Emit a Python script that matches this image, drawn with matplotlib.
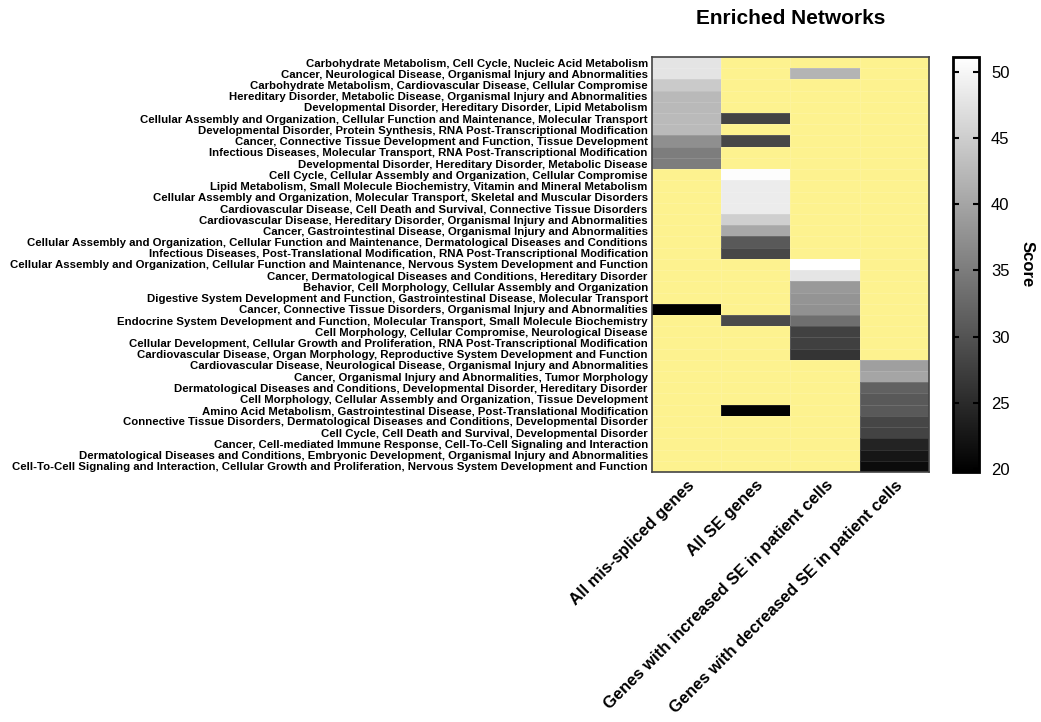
import matplotlib
matplotlib.use("Agg")
import matplotlib.pyplot as plt
import numpy as np

plt.rcParams['font.family'] = ['Liberation Sans', 'DejaVu Sans']

networks = [
    "Carbohydrate Metabolism, Cell Cycle, Nucleic Acid Metabolism",
    "Cancer, Neurological Disease, Organismal Injury and Abnormalities",
    "Carbohydrate Metabolism, Cardiovascular Disease, Cellular Compromise",
    "Hereditary Disorder, Metabolic Disease, Organismal Injury and Abnormalities",
    "Developmental Disorder, Hereditary Disorder, Lipid Metabolism",
    "Cellular Assembly and Organization, Cellular Function and Maintenance, Molecular Transport",
    "Developmental Disorder, Protein Synthesis, RNA Post-Transcriptional Modification",
    "Cancer, Connective Tissue Development and Function, Tissue Development",
    "Infectious Diseases, Molecular Transport, RNA Post-Transcriptional Modification",
    "Developmental Disorder, Hereditary Disorder, Metabolic Disease",
    "Cell Cycle, Cellular Assembly and Organization, Cellular Compromise",
    "Lipid Metabolism, Small Molecule Biochemistry, Vitamin and Mineral Metabolism",
    "Cellular Assembly and Organization, Molecular Transport, Skeletal and Muscular Disorders",
    "Cardiovascular Disease, Cell Death and Survival, Connective Tissue Disorders",
    "Cardiovascular Disease, Hereditary Disorder, Organismal Injury and Abnormalities",
    "Cancer, Gastrointestinal Disease, Organismal Injury and Abnormalities",
    "Cellular Assembly and Organization, Cellular Function and Maintenance, Dermatological Diseases and Conditions",
    "Infectious Diseases, Post-Translational Modification, RNA Post-Transcriptional Modification",
    "Cellular Assembly and Organization, Cellular Function and Maintenance, Nervous System Development and Function",
    "Cancer, Dermatological Diseases and Conditions, Hereditary Disorder",
    "Behavior, Cell Morphology, Cellular Assembly and Organization",
    "Digestive System Development and Function, Gastrointestinal Disease, Molecular Transport",
    "Cancer, Connective Tissue Disorders, Organismal Injury and Abnormalities",
    "Endocrine System Development and Function, Molecular Transport, Small Molecule Biochemistry",
    "Cell Morphology, Cellular Compromise, Neurological Disease",
    "Cellular Development, Cellular Growth and Proliferation, RNA Post-Transcriptional Modification",
    "Cardiovascular Disease, Organ Morphology, Reproductive System Development and Function",
    "Cardiovascular Disease, Neurological Disease, Organismal Injury and Abnormalities",
    "Cancer, Organismal Injury and Abnormalities, Tumor Morphology",
    "Dermatological Diseases and Conditions, Developmental Disorder, Hereditary Disorder",
    "Cell Morphology, Cellular Assembly and Organization, Tissue Development",
    "Amino Acid Metabolism, Gastrointestinal Disease, Post-Translational Modification",
    "Connective Tissue Disorders, Dermatological Diseases and Conditions, Developmental Disorder",
    "Cell Cycle, Cell Death and Survival, Developmental Disorder",
    "Cancer, Cell-mediated Immune Response, Cell-To-Cell Signaling and Interaction",
    "Dermatological Diseases and Conditions, Embryonic Development, Organismal Injury and Abnormalities",
    "Cell-To-Cell Signaling and Interaction, Cellular Growth and Proliferation, Nervous System Development and Function",
]

gene_sets = [
    "All mis-spliced genes",
    "All SE genes",
    "Genes with increased SE in patient cells",
    "Genes with decreased SE in patient cells",
]

# scores per gene set; None = network not enriched in that set
mis_spliced = [47.7, 47.7, 44.5, 42.5, 42.5, 42.6, 42.6, 37.4, 35.2, 35.2,
               None, None, None, None, None, None, None, None, None, None,
               None, None, 19.8, None, None, None, None, None, None, None,
               None, None, None, None, None, None, None]
all_se = [None, None, None, None, None, 28.0, None, 28.5, None, None,
          50.8, 48.7, 48.7, 48.7, 45.2, 40.4, 30.7, 28.6, None, None,
          None, None, None, 28.9, None, None, None, None, None, None,
          None, 20.0, None, None, None, None, None]
increased_se = [None, 41.9, None, None, None, None, None, None, None, None,
                None, None, None, None, None, None, None, None, 51.0, 47.9,
                38.6, 38.0, 37.6, 33.4, 27.8, 27.7, 26.2, None, None, None,
                None, None, None, None, None, None, None]
decreased_se = [None, None, None, None, None, None, None, None, None, None,
                None, None, None, None, None, None, None, None, None, None,
                None, None, None, None, None, None, None, 39.3, 40.0, 31.7,
                30.7, 30.8, 28.4, 28.1, 24.1, 22.6, 21.2]

scores = np.array([mis_spliced, all_se, increased_se, decreased_se], dtype=float).T
scores = np.ma.masked_invalid(scores)

cmap = plt.get_cmap('gray').copy()
cmap.set_bad('#fdf28f')

fig = plt.figure(figsize=(10.41, 7.22), dpi=100)
ax = fig.add_axes([0.6263, 0.3463, 0.2661, 0.5748])
cax = fig.add_axes([0.9155, 0.3463, 0.0245, 0.5748])

mesh = ax.pcolormesh(scores, cmap=cmap, vmin=19.8, vmax=51.1,
                     edgecolors=(1, 1, 1, 0.12), linewidth=0.4)
ax.set_xlim(0, len(gene_sets))
ax.set_ylim(len(networks), 0)

ax.set_yticks(np.arange(len(networks)) + 0.5)
ax.set_yticklabels(networks, fontsize=8.2, fontweight='bold')
ax.set_xticks(np.arange(len(gene_sets)) + 0.5)
ax.set_xticklabels(gene_sets, fontsize=12, fontweight='bold',
                   rotation=45, ha='right', rotation_mode='anchor')
ax.tick_params(length=0, pad=3)
ax.tick_params(axis='x', pad=4)
for s in ax.spines.values():
    s.set_color('#444444')
    s.set_linewidth(1.2)

ax.set_title('Enriched Networks', fontsize=15, fontweight='bold', pad=24)

cb = fig.colorbar(mesh, cax=cax, ticks=[20, 25, 30, 35, 40, 45, 50])
cb.outline.set_linewidth(2)
cb.outline.set_edgecolor('black')
cax.tick_params(labelsize=12, direction='in', length=4, width=1.5,
                left=True, right=True, pad=9)
cb.set_label('Score', rotation=270, fontsize=12, fontweight='bold', labelpad=18)

fig.savefig('out.png', dpi=100)
